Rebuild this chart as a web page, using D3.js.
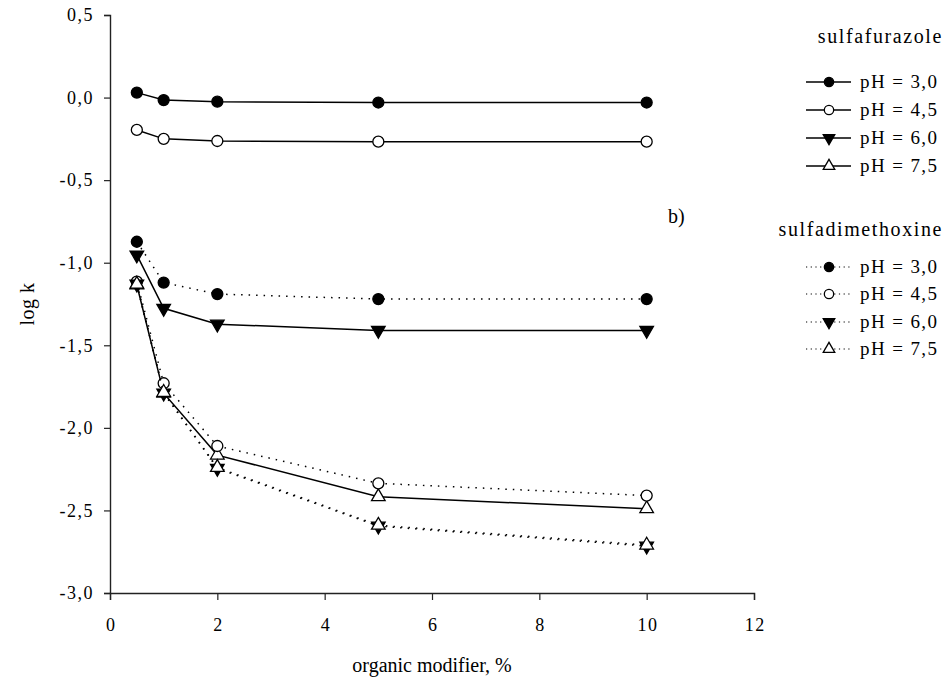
<!DOCTYPE html>
<html>
<head>
<meta charset="utf-8">
<script src="https://cdn.jsdelivr.net/npm/d3@7"></script>
<style>
  body { margin: 0; background: #fff; }
  svg text { font-family: "Liberation Serif", "Times New Roman", serif; fill: #000; }
</style>
</head>
<body>
<div id="chart"></div>
<script>
// organic modifier, %
const xValues = [0.5, 1, 2, 5, 10];

// sulfafurazole, log k
const sfz30 = [0.03, -0.015, -0.025, -0.03, -0.03];
const sfz45 = [-0.196, -0.25, -0.263, -0.267, -0.267];
const sfz60 = [-0.953, -1.276, -1.372, -1.41, -1.41];
const sfz75 = [-1.135, -1.79, -2.165, -2.417, -2.49];

// sulfadimethoxine, log k
const sdm30 = [-0.873, -1.12, -1.19, -1.22, -1.22];
const sdm45 = [-1.115, -1.73, -2.11, -2.336, -2.41];
const sdm60 = [-1.13, -1.79, -2.245, -2.595, -2.716];
const sdm75 = [-1.13, -1.785, -2.24, -2.59, -2.71];

const phLabels = ["pH = 3,0", "pH = 4,5", "pH = 6,0", "pH = 7,5"];
const groupTitles = ["sulfafurazole", "sulfadimethoxine"];
const yTicks = [0.5, 0, -0.5, -1, -1.5, -2, -2.5, -3];
const xTicks = [0, 2, 4, 6, 8, 10, 12];

const markerKinds = ["filledCircle", "openCircle", "filledDown", "openUp"];
const groups = [
  { title: groupTitles[0], dotted: false, series: [sfz30, sfz45, sfz60, sfz75] },
  { title: groupTitles[1], dotted: true, series: [sdm30, sdm45, sdm60, sdm75] }
];

const width = 947, height = 687;
const svg = d3.select("#chart").append("svg")
  .attr("width", width)
  .attr("height", height);

const x = d3.scaleLinear().domain([0, 12]).range([110, 754]);
const y = d3.scaleLinear().domain([-3, 0.5]).range([593, 15]);

const fmt = d => d3.format(".1f")(d).replace(".", ",").replace("\u2212", "-");

// axes
const yAxis = svg.append("g")
  .attr("transform", `translate(${x(0)},0)`)
  .call(d3.axisLeft(y).tickValues(yTicks).tickSize(6).tickPadding(10).tickFormat(fmt));
const xAxis = svg.append("g")
  .attr("transform", `translate(0,${y(-3)})`)
  .call(d3.axisBottom(x).tickValues(xTicks).tickSize(7).tickPadding(18).tickFormat(d3.format("d")));
[yAxis, xAxis].forEach(a => {
  a.select(".domain").attr("stroke", "#222").attr("stroke-width", 1.4);
  a.selectAll(".tick line").attr("stroke", "#222").attr("stroke-width", 1.2);
  a.selectAll("text")
    .attr("font-size", 18)
    .attr("letter-spacing", 1.5)
    .attr("font-family", "Liberation Serif")
    .attr("fill", "#000");
});
xAxis.selectAll(".tick text").attr("dx", 0.75);

svg.append("text")
  .attr("transform", `translate(34,${y(-1.25)}) rotate(-90)`)
  .attr("text-anchor", "middle")
  .attr("font-size", 20)
  .attr("letter-spacing", 0.5)
  .text("log k");

svg.append("text")
  .attr("x", x(6))
  .attr("y", 672)
  .attr("text-anchor", "middle")
  .attr("font-size", 20)
  .text("organic modifier, %");

svg.append("text")
  .attr("x", 668)
  .attr("y", 223)
  .attr("font-size", 20)
  .text("b)");

// markers
function drawMarker(g, kind, cx, cy, scale) {
  const isCircle = kind.indexOf("Circle") >= 0;
  const filled = kind.indexOf("filled") === 0;
  const sym = d3.symbol()
    .type(isCircle ? d3.symbolCircle : d3.symbolTriangle)
    .size((isCircle ? 95 : 80) * scale * scale);
  const rot = kind === "filledDown" ? 180 : 0;
  g.append("path")
    .attr("d", sym())
    .attr("transform", `translate(${cx},${cy}) rotate(${rot})`)
    .attr("fill", filled ? "#000" : "#fff")
    .attr("stroke", "#000")
    .attr("stroke-width", 1.3);
}

const line = d3.line()
  .x((d, i) => x(xValues[i]))
  .y(d => y(d));

const plot = svg.append("g");
groups.forEach(gr => {
  gr.series.forEach((vals, si) => {
    plot.append("path")
      .datum(vals)
      .attr("fill", "none")
      .attr("stroke", "#000")
      .attr("stroke-width", gr.dotted ? 1.5 : 1.5)
      .attr("stroke-dasharray", gr.dotted ? "1.5,6" : null)
      .attr("d", line);
    vals.forEach((v, i) => drawMarker(plot, markerKinds[si], x(xValues[i]), y(v), 1));
  });
});

// legend
const legend = svg.append("g");
const titleY = [43, 236];
const rowY = [[82, 110, 138, 166], [267, 294, 322, 349]];
groups.forEach((gr, gi) => {
  legend.append("text")
    .attr("x", 943)
    .attr("y", titleY[gi])
    .attr("text-anchor", "end")
    .attr("font-size", 20)
    .attr("letter-spacing", 1.6)
    .text(gr.title);
  phLabels.forEach((lab, si) => {
    const ry = rowY[gi][si];
    legend.append("line")
      .attr("x1", 806).attr("x2", 851)
      .attr("y1", ry).attr("y2", ry)
      .attr("stroke", "#000")
      .attr("stroke-width", gr.dotted ? 1.2 : 1.5)
      .attr("stroke-dasharray", gr.dotted ? "1.2,3.5" : null);
    drawMarker(legend, markerKinds[si], 829, ry, 0.85);
    legend.append("text")
      .attr("x", 860)
      .attr("y", ry + 6)
      .attr("font-size", 19)
      .attr("letter-spacing", 1.4)
      .text(lab);
  });
});
</script>
</body>
</html>
